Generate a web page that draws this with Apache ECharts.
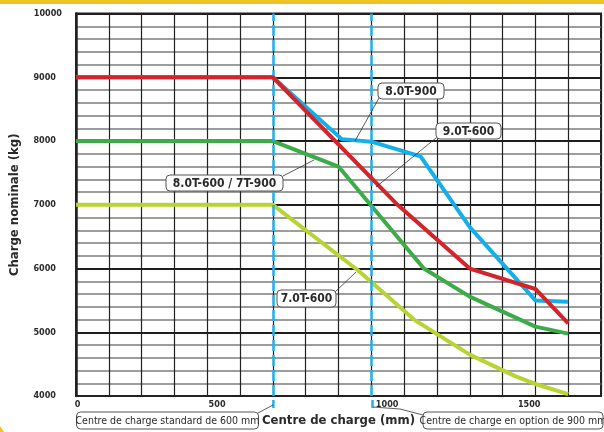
<!DOCTYPE html>
<html>
<head>
<meta charset="utf-8">
<script src="https://cdn.jsdelivr.net/npm/echarts@6/dist/echarts.min.js"></script>
<style>
html,body{margin:0;padding:0;background:#fff;}
#chart{width:604px;height:432px;}
</style>
</head>
<body>
<div id="chart"></div>
<script>
// ---- data (x: centre de charge in mm, y: charge nominale in kg) ----
const xTickLabels = [0, 500, 1000, 1500];
const yTickLabels = [4000, 5000, 6000, 7000, 8000, 9000, 10000];
const loadCentres = [600, 900];

const blue_8T900  = [[0,9000],[600,9000],[810,8030],[900,7990],[1050,7760],[1200,6650],[1400,5500],[1500,5480]];
const red_9T600   = [[0,9000],[600,9000],[980,7000],[1200,6000],[1400,5680],[1500,5140]];
const green_8T600 = [[0,8000],[600,8000],[800,7600],[1060,6000],[1200,5560],[1400,5090],[1500,4980]];
const lime_7T600  = [[0,7000],[600,7000],[860,5970],[1030,5200],[1200,4650],[1340,4310],[1400,4190],[1500,4030]];

const seriesNames = ['8.0T-900', '9.0T-600', '8.0T-600 / 7T-900', '7.0T-600'];
const xTitle = 'Centre de charge (mm)';
const yTitle = 'Charge nominale (kg)';
const stdLabel = 'Centre de charge standard de 600 mm';
const optLabel = 'Centre de charge en option de 900 mm';

const FONT = "'DejaVu Sans Condensed','Liberation Sans Narrow','Roboto Condensed','DejaVu Sans',sans-serif";
const C_BLUE = '#14aee8', C_RED = '#d3242c', C_GREEN = '#3dab4a', C_LIME = '#b7d433';

const chart = echarts.init(document.getElementById('chart'), null, {renderer: 'canvas'});

function lineSeries(name, data, color, z) {
  return {
    name, type: 'line', data, z,
    symbol: 'none', smooth: false,
    lineStyle: {color, width: 4, cap: 'butt', join: 'round'},
    emphasis: {disabled: true}, silent: true, animation: false
  };
}

function box(x, y, w, h, text, bold, fs) {
  return [
    {type: 'rect', shape: {x, y, width: w, height: h, r: 4}, z: 100,
     style: {fill: '#fff', stroke: '#555', lineWidth: 1}},
    {type: 'text', x: x + w / 2, y: y + h / 2 + 0.5, z: 101,
     style: {text, fill: '#2a2a2a', fontFamily: FONT, fontSize: fs, fontWeight: bold ? 'bold' : 'normal',
             align: 'center', verticalAlign: 'middle'}}
  ];
}
function leader(points) {
  return {type: 'polyline', z: 99, shape: {points}, style: {stroke: '#333', lineWidth: 0.8, fill: null}};
}

const xOffsets = {0: [0,0,0,3], 500: [0,46,0,0], 1000: [0,34,0,0], 1500: [0,78,0,0]};

const option = {
  animation: false,
  backgroundColor: '#fff',
  grid: {left: 76, right: 2, top: 13.5, bottom: 32, show: true, borderColor: '#222', borderWidth: 2, backgroundColor: 'transparent'},
  xAxis: {
    type: 'value', min: 0, max: 1600, interval: 100,
    name: xTitle, nameLocation: 'middle', nameGap: 13,
    nameTextStyle: {fontFamily: FONT, fontWeight: 'bold', fontSize: 13, color: '#2a2a2a', verticalAlign: 'top'},
    axisLine: {show: true, lineStyle: {color: '#222', width: 2}},
    axisTick: {show: false},
    axisLabel: {
      margin: 4, fontFamily: FONT, fontWeight: 'bold', fontSize: 9, color: '#2a2a2a',
      formatter: v => xTickLabels.includes(v) ? '{t' + v + '|' + v + '}' : '',
      rich: Object.fromEntries(xTickLabels.map(v => ['t' + v, {padding: xOffsets[v], fontFamily: FONT, fontWeight: 'bold', fontSize: 9, color: '#2a2a2a'}]))
    },
    splitLine: {show: true, lineStyle: {color: '#222', width: 1.2}}
  },
  yAxis: {
    type: 'value', min: 4000, max: 10000, interval: 1000,
    name: yTitle, nameLocation: 'middle', nameGap: 55, nameRotate: 90,
    nameTextStyle: {fontFamily: FONT, fontWeight: 'bold', fontSize: 13, color: '#2a2a2a'},
    axisLine: {show: true, lineStyle: {color: '#222', width: 2.5}},
    axisTick: {show: false},
    axisLabel: {
      margin: 14, fontFamily: FONT, fontWeight: 'bold', fontSize: 9, color: '#2a2a2a',
      formatter: v => yTickLabels.includes(v) ? (v === 10000 ? '{w|' + v + '}' : '{n|' + v + '}') : '',
      rich: {
        w: {fontFamily: FONT, fontWeight: 'bold', fontSize: 9, color: '#2a2a2a'},
        n: {fontFamily: FONT, fontWeight: 'bold', fontSize: 9, color: '#2a2a2a', padding: [0, 6, 0, 0]}
      }
    },
    splitLine: {show: true, lineStyle: {color: '#1e1e1e', width: 2.2}},
    minorTick: {show: false, splitNumber: 5},
    minorSplitLine: {show: true, lineStyle: {color: '#7c7c7c', width: 1.7}}
  },
  series: [
    {
      type: 'line', data: [], silent: true, z: 1,
      markLine: {
        silent: true, symbol: 'none', animation: false,
        label: {show: false},
        lineStyle: {color: '#22b2ea', width: 2.5, type: [11, 4]},
        data: loadCentres.map(v => ({xAxis: v}))
      }
    },
    lineSeries(seriesNames[0], blue_8T900, C_BLUE, 3),
    lineSeries(seriesNames[1], red_9T600, C_RED, 5),
    lineSeries(seriesNames[2], green_8T600, C_GREEN, 4),
    lineSeries(seriesNames[3], lime_7T600, C_LIME, 4)
  ],
  graphic: [
    {type: 'rect', shape: {x: 0, y: 0, width: 604, height: 4}, style: {fill: '#f0c324'}, z: 50},
    {type: 'polygon', shape: {points: [[0,426],[4,432],[0,432]]}, style: {fill: '#f0c324'}, z: 50},
    // dashed load-centre extensions below the axis
    {type: 'line', shape: {x1: 273.4, y1: 400, x2: 273.4, y2: 408}, style: {stroke: '#22b2ea', lineWidth: 2.5}, z: 50},
    {type: 'line', shape: {x1: 372.5, y1: 400, x2: 372.5, y2: 408}, style: {stroke: '#22b2ea', lineWidth: 2.5}, z: 50},
    leader([[283,176],[314,160]]),
    leader([[379,98],[355,141]]),
    leader([[436,138],[376,187]]),
    leader([[335,292],[356,272]]),
    leader([[258,413],[273,405]]),
    leader([[373,407],[400,409],[423,415]]),
    ...box(166, 175, 117, 16, seriesNames[2], true, 12),
    ...box(378, 83, 66, 16, seriesNames[0], true, 12),
    ...box(436, 123, 65, 16, seriesNames[1], true, 12),
    ...box(277, 290, 59, 17, seriesNames[3], true, 12),
    ...box(76.5, 412, 182, 17, stdLabel, false, 10.5),
    ...box(423, 412, 180, 17, optLabel, false, 10.5)
  ]
};
chart.setOption(option);
</script>
</body>
</html>
